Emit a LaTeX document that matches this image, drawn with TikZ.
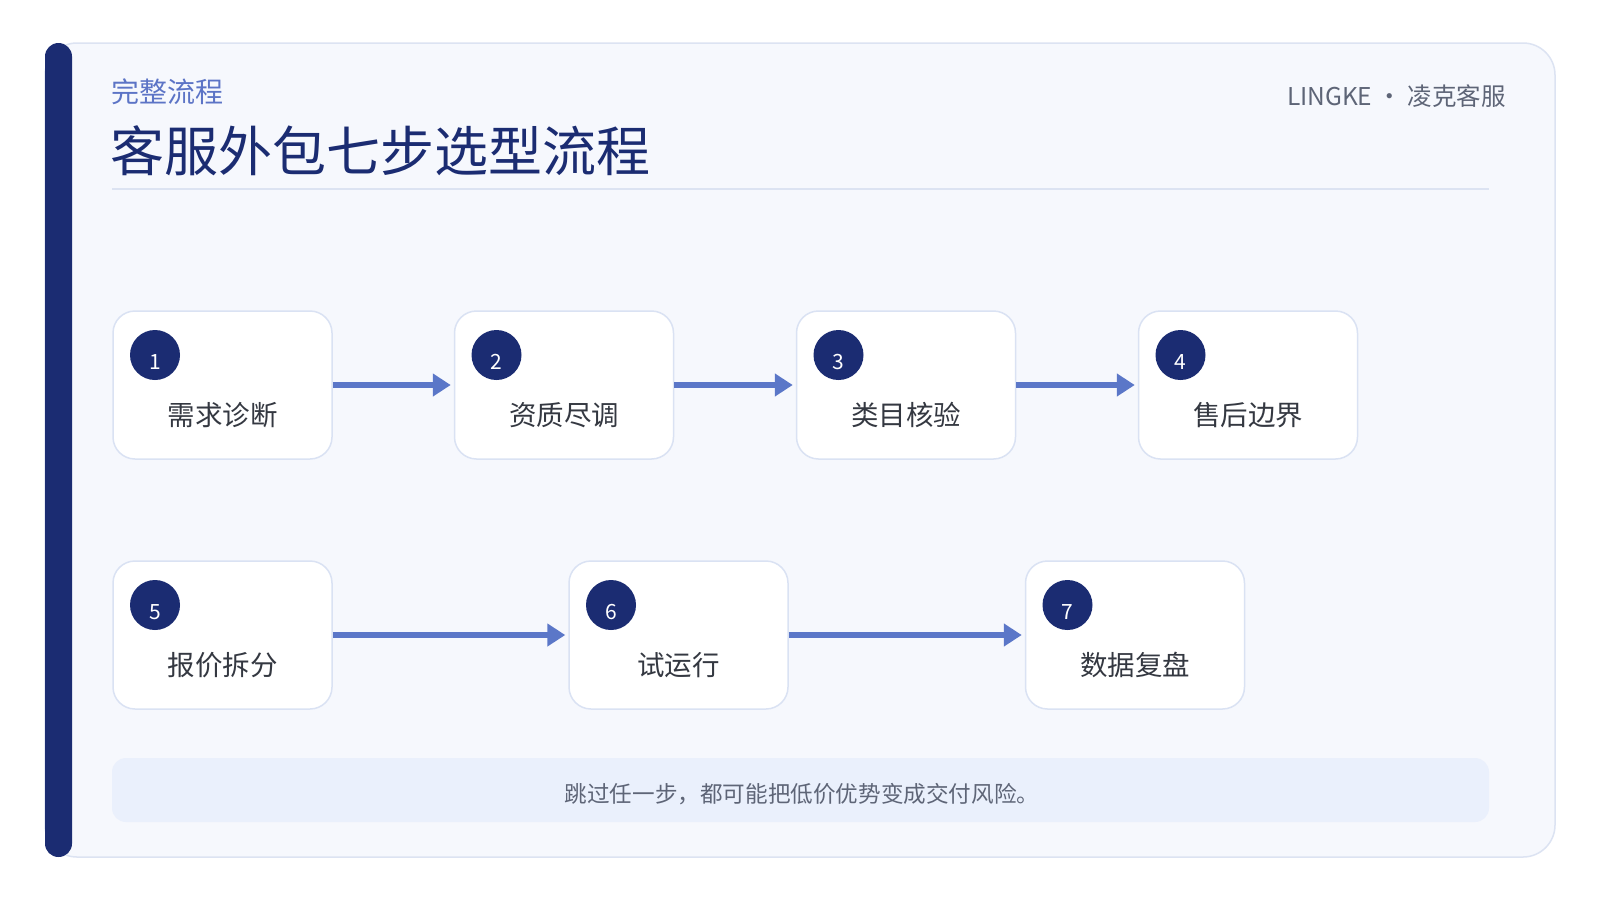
\documentclass[tikz,border=0pt]{standalone}
\usepackage{fontspec}
\setmainfont{Noto Sans CJK SC}
\usetikzlibrary{arrows.meta, calc}

\definecolor{navy}{HTML}{1B2C72}
\definecolor{flowblue}{HTML}{5B77C8}
\definecolor{subblue}{HTML}{5C74C6}
\definecolor{cardbg}{HTML}{F6F8FD}
\definecolor{cardline}{HTML}{DCE3F2}
\definecolor{boxline}{HTML}{DAE2F3}
\definecolor{footbg}{HTML}{EAF0FC}
\definecolor{graytext}{HTML}{5E6577}
\definecolor{darktext}{HTML}{343841}

\begin{document}
\begin{tikzpicture}[x = 1pt, y = -1pt, > = {Triangle[length = 18pt, width = 22pt]},
	stepbox/.style = {draw = boxline, line width = 1.5pt, fill = white, rounded corners = 22pt,
		minimum width = 219pt, minimum height = 148pt, inner sep = 0pt},
	stepnum/.style = {circle, fill = navy, minimum size = 50pt, inner sep = 0pt},
	numtext/.style = {text = white, inner sep = 0pt, font = \fontsize{21}{21}\selectfont},
	steptext/.style = {text = darktext, inner sep = 0pt, font = \fontsize{27.5}{27.5}\selectfont},
	flow/.style = {->, draw = flowblue, line width = 5.5pt, shorten > = 3pt}]

	% Page + card

	\fill [white] (0, 0) rectangle (1600, 900);
	\draw [fill = cardbg, draw = cardline, line width = 1.5pt, rounded corners = 32pt] (45, 43) rectangle (1555, 857);
	\fill [navy, rounded corners = 13.5pt] (45, 43) rectangle (72, 857);

	% Heading

	\node [anchor = west, inner sep = 0pt, text = subblue, font = \fontsize{28}{28}\selectfont] (kicker) at (111, 92) {完整流程};
	\node [anchor = west, inner sep = 0pt, text = navy, font = \fontsize{54}{54}\selectfont] (title) at (110, 151) {客服外包七步选型流程};
	\node [anchor = east, inner sep = 0pt, text = graytext, font = \fontsize{24.5}{24.5}\selectfont] (brand) at (1506, 96) {LINGKE · 凌克客服};
	\draw [cardline, line width = 1.5pt] (112, 189) -- (1489, 189);

	% Steps

	\foreach \i/\x/\y/\name in {1/222.5/385/需求诊断, 2/564/385/资质尽调, 3/906/385/类目核验, 4/1248/385/售后边界,
		5/222.5/635/报价拆分, 6/678.5/635/试运行, 7/1135/635/数据复盘}
	{
		\node [stepbox] (s\i) at (\x, \y) {};
		\node [stepnum] (c\i) at ($(s\i.center) + (-67.5, -30)$) {};
		\node [numtext] (n\i) at ($(c\i.center) + (0, 7)$) {\i};
		\node [steptext] (t\i) at ($(s\i.center) + (0, 30)$) {\name};
	}

	% Arrows

	\foreach \a/\b in {1/2, 2/3, 3/4, 5/6, 6/7}
		\draw [flow] (s\a) -- (s\b);

	% Footer note

	\node [fill = footbg, rounded corners = 14pt, minimum width = 1377pt, minimum height = 64pt] (note) at (800.5, 790) {};
	\node [text = graytext, inner sep = 0pt, font = \fontsize{22.6}{22.6}\selectfont] (notetext) at (802, 794) {跳过任一步，都可能把低价优势变成交付风险。};

\end{tikzpicture}
\end{document}
